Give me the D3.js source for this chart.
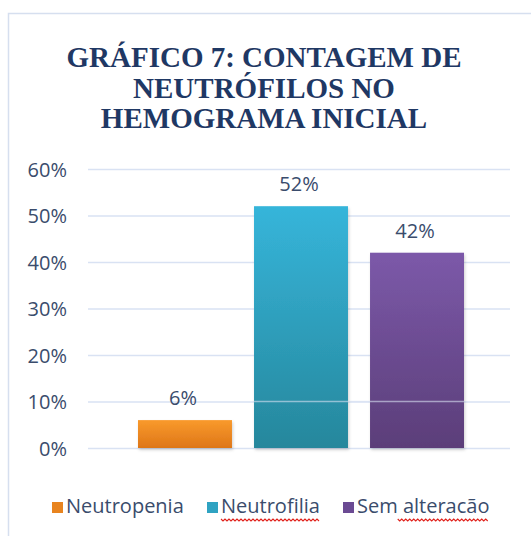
<!DOCTYPE html>
<html><head><meta charset="utf-8">
<script src="https://cdn.jsdelivr.net/npm/d3@7"></script>
<style>html,body{margin:0;padding:0;background:#fff;}</style>
</head><body>
<svg id="c" width="531" height="536"></svg>
<script>
const titleLines = ["GRÁFICO 7: CONTAGEM DE", "NEUTRÓFILOS NO", "HEMOGRAMA INICIAL"];
const series = ["Neutropenia", "Neutrofilia", "Sem alteracão"];
const values = [0.06, 0.52, 0.42];
const valueLabels = ["6%", "52%", "42%"];
const yTicks = [0, 0.1, 0.2, 0.3, 0.4, 0.5, 0.6];
const tickLabels = ["0%", "10%", "20%", "30%", "40%", "50%", "60%"];
const colorsTop = ["#F99A2C", "#36B5DA", "#7C59A9"];
const colorsBottom = ["#DE7618", "#26879C", "#5B3E79"];
const legendColors = ["#E8841F", "#2FA3C2", "#6B4A93"];
const misspelled = [false, true, true];

const svg = d3.select("#c");
const plot = {left: 88, right: 510, top: 169, bottom: 448};
const FONT = "Open Sans";
const TXT = "#3A4C6C";

// frame
svg.append("rect").attr("x", 8.5).attr("y", 13.5).attr("width", 700).attr("height", 700)
  .attr("fill", "#fff").attr("stroke", "#D6DFEF").attr("stroke-width", 1.5);

// title
const title = svg.append("text").attr("text-anchor", "middle")
  .attr("font-family", "Liberation Serif").attr("font-weight", "bold")
  .attr("font-size", 29).attr("fill", "#1F3864");
titleLines.forEach((t, i) => {
  title.append("tspan").attr("x", 264).attr("y", 67 + i * 30.5).text(t);
});

const y = d3.scaleLinear().domain([0, 0.6]).range([plot.bottom, plot.top]);
const x = d3.scaleBand().domain(series).range([138, 464]).paddingInner(0.19).paddingOuter(0);

// gradients
const defs = svg.append("defs");
series.forEach((s, i) => {
  const g = defs.append("linearGradient").attr("id", "g" + i)
    .attr("x1", 0).attr("y1", 0).attr("x2", 0).attr("y2", 1);
  g.append("stop").attr("offset", "0%").attr("stop-color", colorsTop[i]);
  g.append("stop").attr("offset", "100%").attr("stop-color", colorsBottom[i]);
});
const f = defs.append("filter").attr("id", "sh").attr("x", "-10%").attr("y", "-10%").attr("width", "130%").attr("height", "130%");
f.append("feDropShadow").attr("dx", 1).attr("dy", 2).attr("stdDeviation", 1.5).attr("flood-color", "#000").attr("flood-opacity", 0.18);

// y axis
const yAxis = d3.axisLeft(y).tickValues(yTicks)
  .tickFormat((d, i) => tickLabels[i])
  .tickSize(-(plot.right - plot.left)).tickPadding(21);
const ga = svg.append("g").attr("transform", `translate(${plot.left},0)`).call(yAxis);
ga.select(".domain").remove();
ga.selectAll(".tick line").attr("stroke", "#D9E2F3").attr("stroke-width", 1.6);
ga.selectAll(".tick text").attr("font-family", FONT).attr("font-size", 20)
  .attr("fill", TXT).attr("dy", "0.36em");

// bars
svg.append("g").selectAll("rect").data(series).join("rect")
  .attr("x", d => x(d))
  .attr("y", (d, i) => y(values[i]))
  .attr("width", x.bandwidth())
  .attr("height", (d, i) => y(0) - y(values[i]))
  .attr("fill", (d, i) => `url(#g${i})`)
  .attr("filter", "url(#sh)");

// 10% gridline visible across bars
svg.append("line").attr("x1", x(series[1])).attr("x2", x(series[2]) + x.bandwidth())
  .attr("y1", y(0.1)).attr("y2", y(0.1))
  .attr("stroke", "#D9E2F3").attr("stroke-width", 1.6).attr("opacity", 0.6);

// value labels
svg.append("g").selectAll("text").data(series).join("text")
  .attr("x", d => x(d) + x.bandwidth() / 2 - 2)
  .attr("y", (d, i) => y(values[i]) - 15)
  .attr("text-anchor", "middle")
  .attr("font-family", FONT).attr("font-size", 20).attr("fill", TXT)
  .text((d, i) => valueLabels[i]);

// legend
const legendX = [52, 207, 343];
const lg = svg.append("g");
series.forEach((s, i) => {
  lg.append("rect").attr("x", legendX[i]).attr("y", 502).attr("width", 11).attr("height", 11)
    .attr("fill", legendColors[i]);
  const t = lg.append("text").attr("x", legendX[i] + 14).attr("y", 513)
    .attr("font-family", FONT).attr("font-size", 20).attr("fill", TXT).text(s);
  if (misspelled[i]) {
    const bb = t.node().getBBox();
    let x0 = bb.x, x1 = bb.x + bb.width;
    if (i === 2) {
      const tmp = lg.append("text").attr("font-family", FONT).attr("font-size", 20).text("Sem ");
      x0 = bb.x + tmp.node().getComputedTextLength();
      tmp.remove();
    }
    let p = `M${x0},${519}`;
    let k = 0;
    for (let xx = x0 + 2; xx <= x1; xx += 2) { p += ` L${xx},${519 + (k % 2 === 0 ? 2 : 0)}`; k++; }
    lg.append("path").attr("d", p).attr("fill", "none").attr("stroke", "#E0211B").attr("stroke-width", 1.1);
  }
});
</script>
</body></html>
